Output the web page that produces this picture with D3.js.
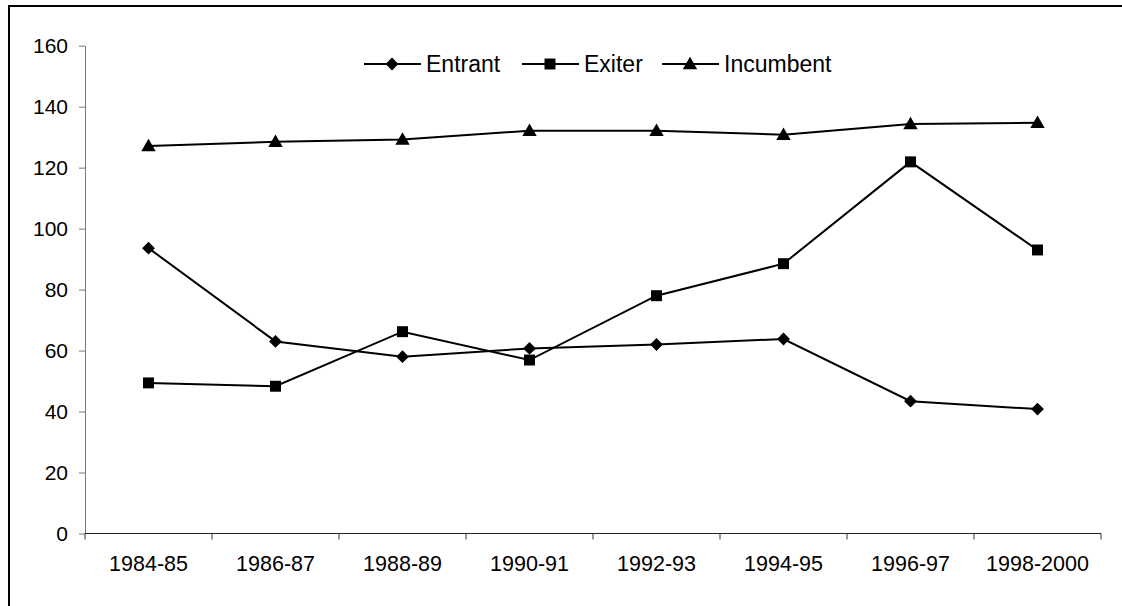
<!DOCTYPE html>
<html>
<head>
<meta charset="utf-8">
<script src="https://cdn.jsdelivr.net/npm/d3@7"></script>
<style>
  body { margin: 0; background: #fff; }
  svg { display: block; font-family: "Liberation Sans", Arial, sans-serif; }
</style>
</head>
<body>
<div id="chart"></div>
<script>
const periods = ["1984-85", "1986-87", "1988-89", "1990-91", "1992-93", "1994-95", "1996-97", "1998-2000"];
const entrant = [93.6, 63.0, 58.0, 60.7, 62.0, 63.8, 43.4, 40.8];
const exiter = [49.4, 48.3, 66.2, 56.9, 78.0, 88.5, 121.9, 93.0];
const incumbent = [127.1, 128.5, 129.2, 132.1, 132.1, 130.8, 134.3, 134.7];
const yTicks = [0, 20, 40, 60, 80, 100, 120, 140, 160];

const width = 1122, height = 606;
const margin = {left: 85, right: 21, top: 45.7, bottom: 72.5};

let svg = d3.select("#chart")
    .append("svg")
    .attr("width", width)
    .attr("height", height);

// outer frame (only top and left edges are visible in the picture)
svg.append("rect")
    .attr("x", 9).attr("y", 6)
    .attr("width", width + 20).attr("height", height + 20)
    .attr("fill", "none")
    .attr("stroke", "#000")
    .attr("stroke-width", 2);

let x = d3.scaleBand()
    .domain(periods)
    .range([margin.left, width - margin.right]);

let y = d3.scaleLinear()
    .domain([0, 160])
    .range([height - margin.bottom, margin.top]);

// y axis
let yAxis = svg.append("g")
    .attr("transform", `translate(${margin.left}, 0)`)
    .call(d3.axisLeft(y).tickValues(yTicks).tickSize(6).tickSizeOuter(0).tickPadding(11));
yAxis.select(".domain").attr("stroke", "#777");
yAxis.selectAll(".tick line").attr("stroke", "#777");
yAxis.selectAll("text").style("font-size", "21px").attr("fill", "#000");

// x axis, ticks between categories
let xAxis = svg.append("g")
    .attr("transform", `translate(0, ${height - margin.bottom})`);
xAxis.append("line")
    .attr("x1", margin.left).attr("x2", width - margin.right)
    .attr("stroke", "#222");
let bounds = periods.map(p => x(p)).concat([x.range()[1]]);
xAxis.selectAll(".tk")
    .data(bounds)
    .enter().append("line")
    .attr("x1", d => d).attr("x2", d => d)
    .attr("y1", 0).attr("y2", 6)
    .attr("stroke", "#333");
xAxis.selectAll(".lbl")
    .data(periods)
    .enter().append("text")
    .attr("x", d => x(d) + x.bandwidth() / 2)
    .attr("y", 37.5)
    .attr("text-anchor", "middle")
    .style("font-size", "21.5px")
    .text(d => d);

const series = [
    {name: "Entrant", values: entrant, symbol: d3.symbolDiamond2, size: 105},
    {name: "Exiter", values: exiter, symbol: d3.symbolSquare, size: 120},
    {name: "Incumbent", values: incumbent, symbol: d3.symbolTriangle, size: 90}
];

let line = d3.line()
    .x((d, i) => x(periods[i]) + x.bandwidth() / 2)
    .y(d => y(d));

series.forEach(function(s) {
    svg.append("path")
        .datum(s.values)
        .attr("fill", "none")
        .attr("stroke", "#000")
        .attr("stroke-width", 2)
        .attr("d", line);

    svg.append("g")
        .selectAll("path")
        .data(s.values)
        .enter().append("path")
        .attr("d", d3.symbol().type(s.symbol).size(s.size))
        .attr("transform", (d, i) => `translate(${x(periods[i]) + x.bandwidth() / 2}, ${y(d) + (s.symbol === d3.symbolTriangle ? 1 : 0)})`)
        .attr("fill", "#000");
});

// legend
const legendX = [364, 522, 662];
let legend = svg.append("g");
series.forEach(function(s, i) {
    let g = legend.append("g").attr("transform", `translate(${legendX[i]}, 64)`);
    g.append("line")
        .attr("x1", 0).attr("x2", 57)
        .attr("stroke", "#000").attr("stroke-width", 2);
    g.append("path")
        .attr("d", d3.symbol().type(s.symbol).size(s.size))
        .attr("transform", `translate(28, ${s.symbol === d3.symbolTriangle ? 1 : 0})`)
        .attr("fill", "#000");
    g.append("text")
        .attr("x", 62)
        .attr("y", 8)
        .style("font-size", "23px")
        .text(s.name);
});
</script>
</body>
</html>
